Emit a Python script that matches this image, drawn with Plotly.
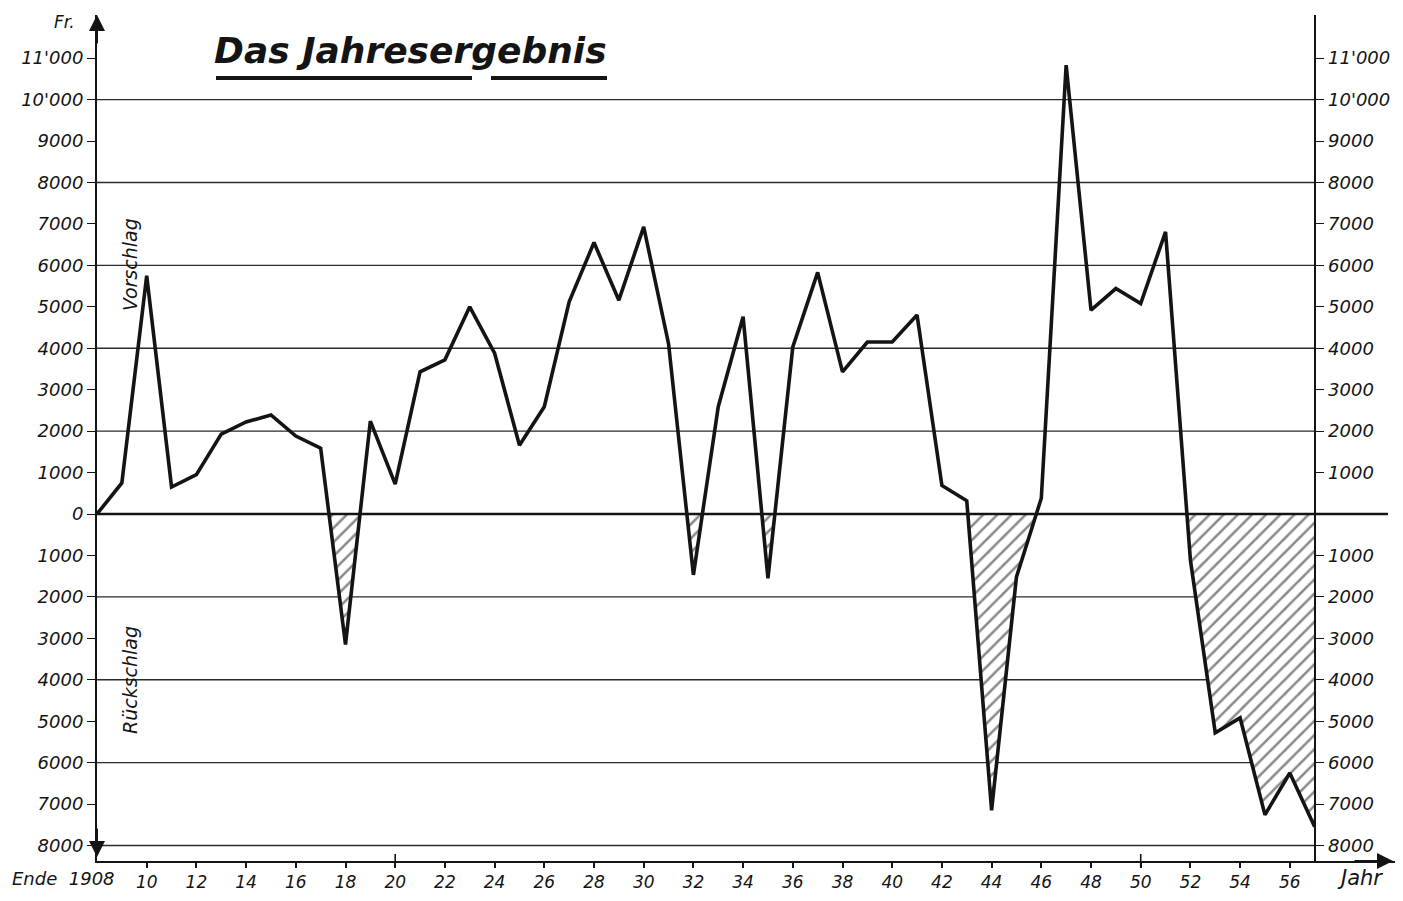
import plotly.graph_objects as go

# Jahresergebnis in Franken, Ende 1908 .. 1957 (negativ = Rückschlag)
years = list(range(1908, 1958))
result = [
    0, 750, 5750, 650, 950, 1930, 2220, 2390, 1880, 1590,
    -3150, 2240, 720, 3430, 3720, 5000, 3880, 1660, 2590, 5120,
    6550, 5160, 6930, 4110, -1470, 2590, 4760, -1550, 4030, 5830,
    3430, 4150, 4150, 4800, 690, 320, -7150, -1520, 380, 10830,
    4920, 5440, 5080, 6810, -1110, -5280, -4920, -7260, -6250, -7550,
]

y_tick_vals = list(range(-8000, 12000, 1000))
grid_vals = list(range(-8000, 12000, 2000))
x_tick_vals = list(range(1910, 1958, 2))


def fr_label(v):
    v = abs(v)
    return f"{v // 1000}'{v % 1000:03d}" if v >= 10000 else str(v)


left_text = [fr_label(v) for v in y_tick_vals]
right_text = ["" if v == 0 else fr_label(v) for v in y_tick_vals]
x_tick_text = [str(v % 100) for v in x_tick_vals]

# the page puts the figure 8px in from the window corner
OFF = 8
W, H = 1403 - 2 * OFF, 901 - 2 * OFF

# plot area in window pixels
L, R, T, B = 97, 1395, 15, 861
X0, PX_YEAR = 1908, 24.85
Y0_PX, PX_K = 514, 41.44
x_range = [X0, X0 + (R - L) / PX_YEAR]
y_range = [(Y0_PX - B) / PX_K * 1000, (Y0_PX - T) / PX_K * 1000]


def px(x):
    return (x - L) / (R - L)


def py(y):
    return (B - y) / (B - T)


def dx(year):
    return (year - x_range[0]) / (x_range[1] - x_range[0])


# negative areas (hatched), cut at the zero crossings
neg_x, neg_y = [], []
cur = []
for i in range(len(years)):
    x, y = years[i], result[i]
    if i > 0:
        xp, yp = years[i - 1], result[i - 1]
        if (yp < 0) != (y < 0) and yp != 0 and y != 0:
            xc = xp + (x - xp) * yp / (yp - y)
            if y < 0:
                cur = [(xc, 0)]
            else:
                cur.append((xc, 0))
                neg_x += [p[0] for p in cur] + [None]
                neg_y += [p[1] for p in cur] + [None]
                cur = []
    if y < 0:
        if not cur:
            cur = [(x, 0)]
        cur.append((x, y))
if cur:
    cur.append((cur[-1][0], 0))
    neg_x += [p[0] for p in cur]
    neg_y += [p[1] for p in cur]

FONT = "DejaVu Sans"
INK = "#141414"

fig = go.Figure()

fig.add_trace(go.Scatter(
    x=neg_x, y=neg_y, mode="lines", fill="toself",
    line=dict(width=0, color="rgba(0,0,0,0)"),
    fillcolor="white",
    fillpattern=dict(shape="/", fgcolor=INK, bgcolor="white", size=10, solidity=0.25),
    hoverinfo="skip", showlegend=False,
))

fig.add_trace(go.Scatter(
    x=years, y=result, mode="lines",
    line=dict(color=INK, width=3.6),
    showlegend=False,
))

# dummy trace so the right axis is drawn
fig.add_trace(go.Scatter(x=[years[0]], y=[0], yaxis="y2", mode="markers",
                         marker=dict(opacity=0), showlegend=False, hoverinfo="skip"))

shapes = []
for g in grid_vals:
    if g == 0:
        continue
    shapes.append(dict(type="line", xref="x", yref="y", x0=years[0], x1=years[-1],
                       y0=g, y1=g, line=dict(color="#2a2a2a", width=1.3), layer="below"))
# zero line runs to the arrow
shapes.append(dict(type="line", xref="x", yref="y", x0=years[0], x1=1959.95,
                   y0=0, y1=0, line=dict(color=INK, width=2.6)))
# long ticks at 1920 and 1950
for yr in (1920, 1950):
    shapes.append(dict(type="line", xref="paper", yref="paper", x0=dx(yr), x1=dx(yr),
                       y0=py(854), y1=py(868), line=dict(color=INK, width=1.6)))
# title underline
shapes.append(dict(type="line", xref="paper", yref="paper", x0=px(216), x1=px(472),
                   y0=py(78), y1=py(78), line=dict(color=INK, width=4)))
shapes.append(dict(type="line", xref="paper", yref="paper", x0=px(491), x1=px(607),
                   y0=py(78), y1=py(78), line=dict(color=INK, width=4)))


def label(xp, yp, text, size, **kw):
    return dict(x=px(xp), y=py(yp), xref="paper", yref="paper", text=text,
                showarrow=False, xanchor=kw.pop("xanchor", "center"), yanchor="middle",
                font=dict(family=FONT, size=size, color=INK, style="italic",
                          weight=kw.pop("weight", "normal")), **kw)


def arrow(xp, yp, ax, ay):
    return dict(x=px(xp), y=py(yp), xref="paper", yref="paper", ax=ax, ay=ay, text="",
                showarrow=True, arrowhead=2, arrowsize=1.6, arrowwidth=2, arrowcolor=INK)


annotations = [
    label(410, 50, "Das Jahresergebnis", 36, weight="bold"),
    label(64, 22, "Fr.", 17),
    label(130, 265, "Vorschlag", 19, textangle=-90),
    label(130, 680, "Rückschlag", 19, textangle=-90),
    label(117, 879, "Ende  1908", 18, xanchor="right"),
    label(1360, 878, "Jahr", 21),
    arrow(L, 15, 0, 30),
    arrow(L, 857, 0, -30),
    arrow(1393, B, -40, 0),
]

tick_font = dict(family=FONT, size=18, color=INK, style="italic")

fig.update_layout(
    width=W, height=H,
    margin=dict(l=L - OFF, r=W - (R - OFF), t=T - OFF, b=H - (B - OFF),
                pad=0, autoexpand=False),
    paper_bgcolor="white", plot_bgcolor="white",
    showlegend=False,
    shapes=shapes, annotations=annotations,
    xaxis=dict(
        range=x_range, showgrid=False, zeroline=False, automargin=False,
        showline=True, linecolor=INK, linewidth=2,
        tickvals=x_tick_vals, ticktext=x_tick_text,
        ticks="outside", ticklen=5, tickwidth=1.6, tickcolor=INK,
        tickfont=dict(family=FONT, size=17, color=INK, style="italic"),
        ticklabelstandoff=0,
    ),
    yaxis=dict(
        range=y_range, showgrid=False, zeroline=False, automargin=False,
        showline=True, linecolor=INK, linewidth=2,
        tickvals=y_tick_vals, ticktext=left_text,
        ticks="outside", ticklen=8, tickwidth=1.4, tickcolor=INK,
        tickfont=tick_font,
    ),
    yaxis2=dict(
        range=y_range, overlaying="y", anchor="free", side="right",
        position=dx(1957), showgrid=False, zeroline=False, automargin=False,
        showline=True, linecolor=INK, linewidth=1.6,
        tickvals=y_tick_vals, ticktext=right_text,
        ticks="outside", ticklen=9, tickwidth=1.4, tickcolor=INK,
        tickfont=tick_font,
    ),
)

fig.write_html("out.html")
